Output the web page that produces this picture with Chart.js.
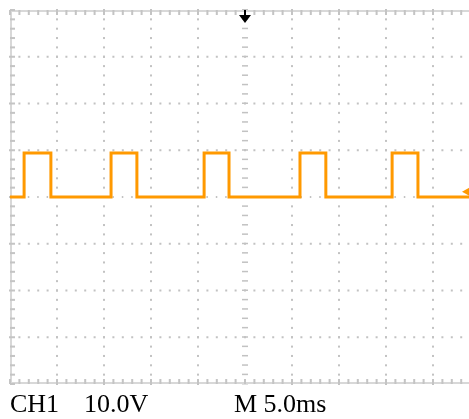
<!DOCTYPE html>
<html>
<head>
<meta charset="utf-8">
<script src="https://cdn.jsdelivr.net/npm/chart.js@4/dist/chart.umd.min.js"></script>
<style>
  html, body { margin: 0; padding: 0; background: #fff; }
  #scope { position: relative; width: 469px; height: 419px; overflow: hidden; }
  #grafico { position: absolute; left: 0; top: 0; }
  .lbl { position: absolute; top: 389px; font-family: "Liberation Serif", "Tinos", "DejaVu Serif", Times, serif; font-size: 26px; color: #000; white-space: nowrap; }
</style>
</head>
<body>
<div id="scope">
  <canvas id="grafico" width="482" height="390"></canvas>
  <span class="lbl" style="left:10px">CH1</span>
  <span class="lbl" style="left:84px">10.0V</span>
  <span class="lbl" style="left:234px">M 5.0ms</span>
</div>
<script>
// trace: time in ms, level in volts (5 ms/div, 10 V/div)
const timeMs = [0, 1.5, 1.5, 4.35, 4.35, 10.75, 10.75, 13.5, 13.5, 20.65, 20.65, 23.3, 23.3,
                30.85, 30.85, 33.6, 33.6, 40.65, 40.65, 43.4, 43.4, 50];
const volts  = [0, 0, 9.4, 9.4, 0, 0, 9.4, 9.4, 0, 0, 9.4, 9.4, 0,
                0, 9.4, 9.4, 0, 0, 9.4, 9.4, 0, 0];
const xDivs = [0, 5, 10, 15, 20, 25, 30, 35, 40, 45, 50];
const yDivs = [-40, -30, -20, -10, 0, 10, 20, 30, 40];
const triggerLevel = 1.1;

const graticule = {
    id: 'graticule',
    beforeDatasetsDraw(chart) {
        const { ctx, chartArea: a, scales: { x, y } } = chart;
        ctx.save();
        // dotted division lines
        ctx.fillStyle = '#c2c2c2';
        xDivs.slice(1, -1).forEach(t => {
            if (t === 25) return;
            for (let v = -40; v <= 40; v += 2) {
                ctx.fillRect(x.getPixelForValue(t) - 1, y.getPixelForValue(v) - 1, 2, 2);
            }
        });
        yDivs.slice(1, -1).forEach(v => {
            if (v === 0) return;
            for (let t = 0; t <= 50; t += 1) {
                ctx.fillRect(x.getPixelForValue(t) - 1, y.getPixelForValue(v) - 1, 2, 2);
            }
        });
        // centre axes with minor ticks
        const cx = x.getPixelForValue(25), cy = y.getPixelForValue(0);
        for (let v = -40; v <= 40; v += 2) {
            ctx.fillRect(cx - 3, y.getPixelForValue(v) - 1, 6, 1.5);
        }
        for (let t = 0; t <= 50; t += 1) {
            ctx.fillRect(x.getPixelForValue(t) - 1, cy - 1, 1.5, 2);
        }
        // frame
        ctx.strokeStyle = '#d8d8d8';
        ctx.lineWidth = 2;
        ctx.strokeRect(a.left + 1, a.top + 1, a.right - a.left - 2, a.bottom - a.top - 2);
        ctx.fillStyle = '#c4c4c4';
        for (let t = 0; t <= 50; t += 1) {
            const px = x.getPixelForValue(t);
            ctx.fillRect(px - 1, a.top, 2, 5);
            ctx.fillRect(px - 1, a.bottom - 5, 2, 5);
        }
        for (let v = -40; v <= 40; v += 2) {
            const py = y.getPixelForValue(v);
            ctx.fillRect(a.left, py - 1, 5, 2);
        }
        ctx.restore();
    },
    afterDatasetsDraw(chart) {
        const { ctx, chartArea: a, scales: { x, y } } = chart;
        ctx.save();
        // trigger position arrow
        const cx = x.getPixelForValue(25);
        ctx.fillStyle = '#000';
        ctx.fillRect(cx - 1, a.top, 2, 6);
        ctx.beginPath();
        ctx.moveTo(cx - 6, a.top + 5);
        ctx.lineTo(cx + 6, a.top + 5);
        ctx.lineTo(cx, a.top + 13);
        ctx.closePath();
        ctx.fill();
        // trigger level marker
        const ty = y.getPixelForValue(triggerLevel);
        ctx.fillStyle = '#ff9900';
        ctx.beginPath();
        ctx.moveTo(462, ty);
        ctx.lineTo(471, ty - 5);
        ctx.lineTo(471, ty + 5);
        ctx.closePath();
        ctx.fill();
        ctx.restore();
    }
};

const grafico = document.getElementById('grafico');
new Chart(grafico, {
    type: 'line',
    data: {
        datasets: [{
            label: 'CH1',
            data: timeMs.map((t, i) => ({ x: t, y: volts[i] })),
            borderColor: '#ff9900',
            borderWidth: 3,
            borderJoinStyle: 'miter',
            pointRadius: 0,
            tension: 0,
            fill: false
        }]
    },
    options: {
        responsive: false,
        animation: false,
        layout: { padding: { left: 10, top: 10, right: 2, bottom: 6 } },
        plugins: { legend: { display: false }, tooltip: { enabled: false } },
        scales: {
            x: { type: 'linear', min: 0, max: 50, display: false },
            y: { min: -40, max: 40, display: false }
        }
    },
    plugins: [graticule]
});
</script>
</body>
</html>
